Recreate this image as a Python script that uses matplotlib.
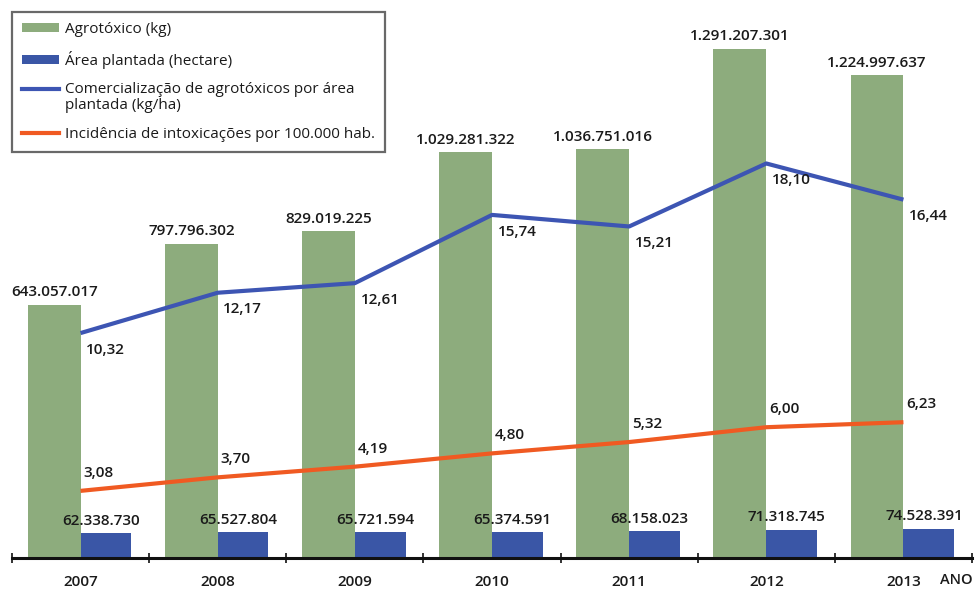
import numpy as np
import matplotlib
matplotlib.use("Agg")
import matplotlib.pyplot as plt
from matplotlib.patches import Patch
from matplotlib.lines import Line2D
from matplotlib.legend_handler import HandlerLine2D

plt.rcParams['font.family'] = ['Open Sans', 'DejaVu Sans']

# ---- data ----
anos = ['2007', '2008', '2009', '2010', '2011', '2012', '2013']
agrotoxico_kg = [643057017, 797796302, 829019225, 1029281322, 1036751016, 1291207301, 1224997637]
area_ha = [62338730, 65527804, 65721594, 65374591, 68158023, 71318745, 74528391]
kg_por_ha = [10.32, 12.17, 12.61, 15.74, 15.21, 18.10, 16.44]
intoxicacoes = [3.08, 3.70, 4.19, 4.80, 5.32, 6.00, 6.23]

verde = '#8dac7d'
azul_barra = '#3a56a6'
azul_linha = '#3d55b3'
laranja = '#f05a22'
texto = '#1a1a1a'
fs = 11
peso = 'semibold'


def fmt_int(v):
    return f"{v:,}".replace(',', '.')


def fmt_dec(v):
    return f"{v:.2f}".replace('.', ',')


# ---- figure ----
fig = plt.figure(figsize=(9.75, 5.89), dpi=100)
ax = fig.add_axes([12 / 975, 31 / 589, 960 / 975, 558 / 589])

x = np.arange(len(anos))
wg = 0.385
wb = 0.37
ax.bar(x - wg / 2, agrotoxico_kg, width=wg, color=verde, zorder=2)
ax.bar(x + wb / 2, area_ha, width=wb, color=azul_barra, zorder=2)

ax.set_xlim(-0.5, len(anos) - 0.5)
ax.set_ylim(0, 1415.5e6)

for i, v in enumerate(agrotoxico_kg):
    ax.annotate(fmt_int(v), (x[i] - wg / 2, v), xytext=(0, 4), textcoords='offset points',
                ha='center', va='bottom', fontsize=fs, fontweight=peso, color=texto)
for i, v in enumerate(area_ha):
    ax.annotate(fmt_int(v), (x[i] + 0.15, v), xytext=(0, 4), textcoords='offset points',
                ha='center', va='bottom', fontsize=fs, fontweight=peso, color=texto)

# axis styling
for s in ['top', 'right', 'left']:
    ax.spines[s].set_visible(False)
ax.spines['bottom'].set_linewidth(2.2)
ax.spines['bottom'].set_color('#111111')
ax.set_yticks([])
ax.set_xticks(np.arange(-0.5, len(anos)), labels=[])
ax.tick_params(axis='x', which='major', direction='inout', length=7, width=1.2, color='#111111')
ax.set_xticks(x, labels=anos, minor=True)
ax.tick_params(axis='x', which='minor', length=0, pad=12, labelsize=fs, labelcolor=texto)
for t in ax.get_xticklabels(minor=True):
    t.set_fontweight(peso)
ax.text((940 - 12) / 960, -0.039, 'ANO', transform=ax.transAxes, ha='left', va='center',
        fontsize=10.5, fontweight=peso, color=texto)

# ---- lines on secondary scale ----
ax2 = ax.twinx()
ax2.set_ylim(0, 25.6)
ax2.axis('off')
ax2.plot(x, kg_por_ha, color=azul_linha, lw=3, solid_capstyle='butt', zorder=3)
ax2.plot(x, intoxicacoes, color=laranja, lw=3, solid_capstyle='butt', zorder=3)

for i, v in enumerate(kg_por_ha):
    ax2.annotate(fmt_dec(v), (x[i], v), xytext=(4, -12), textcoords='offset points',
                 ha='left', va='center', fontsize=fs, fontweight=peso, color=texto)
for i, v in enumerate(intoxicacoes):
    ax2.annotate(fmt_dec(v), (x[i], v), xytext=(2, 13), textcoords='offset points',
                 ha='left', va='center', fontsize=fs, fontweight=peso, color=texto)


# ---- legend ----
class HandlerUp(HandlerLine2D):
    # put the line handle next to the first line of a two-line label
    def create_artists(self, legend, orig_handle, xdescent, ydescent, width, height, fontsize, trans):
        return super().create_artists(legend, orig_handle, xdescent, ydescent - 1.2 * fontsize,
                                      width, height, fontsize, trans)


h_verde = Patch(facecolor=verde)
h_azul = Patch(facecolor=azul_barra)
h_linha = Line2D([], [], color=azul_linha, lw=3)
h_lar = Line2D([], [], color=laranja, lw=3)
leg = ax2.legend([h_verde, h_azul, h_linha, h_lar],
                 ['Agrotóxico (kg)', 'Área plantada (hectare)',
                  'Comercialização de agrotóxicos por área\nplantada (kg/ha)',
                  'Incidência de intoxicações por 100.000 hab.'],
                 handler_map={h_linha: HandlerUp()},
                 loc='upper left', bbox_to_anchor=(0, 1 - 12 / 558), borderaxespad=0,
                 fontsize=fs, frameon=True, fancybox=False, handlelength=2.4, handleheight=0.55,
                 handletextpad=0.45, labelspacing=0.9, borderpad=0.65)
leg.get_frame().set_edgecolor('#444444')
leg.get_frame().set_linewidth(1.6)
for t in leg.get_texts():
    t.set_color(texto)
    t.set_linespacing(1.05)

fig.savefig('out.png', dpi=100)
